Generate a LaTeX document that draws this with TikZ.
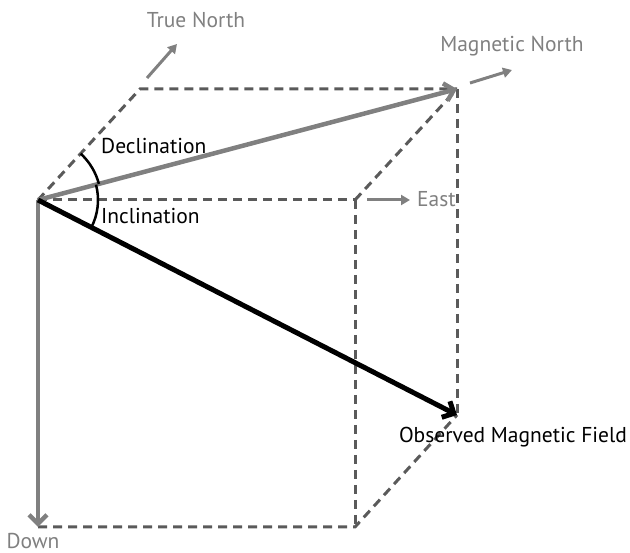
\documentclass[tikz,border=0pt]{standalone}
\usepackage{fontspec}
\setmainfont{PT Sans}
\usetikzlibrary{arrows.meta}
\definecolor{vecgray}{RGB}{128,128,128}
\definecolor{boxgray}{RGB}{90,90,90}
\def\mylabelsize{\fontsize{21.5}{24}\selectfont}

\begin{document}
\begin{tikzpicture}[x=1pt,y=-1pt]
\tikzstyle{box}=[line width=3pt,color=boxgray,dash pattern=on 9pt off 6pt]
\tikzstyle{vec}=[line width=4.5pt,color=vecgray,-{Straight Barb[length=9pt,width=18pt]}]
\tikzstyle{field}=[line width=5pt,color=black,-{Straight Barb[length=9pt,width=18pt]}]
\tikzstyle{axis}=[line width=3pt,color=vecgray,-{Triangle[length=9pt,width=10pt]}]
\tikzstyle{angle}=[line width=2.5pt,color=black]
\tikzstyle{lbl}=[inner sep=0pt,font=\mylabelsize]

\useasboundingbox (0,0) rectangle (630,553);

\coordinate (O) at (38,200);
\path (O) + (317,0) coordinate (east1);
\path (O) + (102,-111) coordinate (north1);
\path (north1) + (317,0) coordinate (mag);
\path (O) + (0,327) coordinate (down);
\path (east1) + (0,327) coordinate (eastdown);
\path (mag) + (0,326) coordinate (obs);

\path (north1) + (7,-11) coordinate (tn1);
\path (north1) + (37,-45) coordinate (tn2);
\path (mag) + (13,-6) coordinate (mn1);
\path (mag) + (55,-19) coordinate (mn2);
\path (east1) + (12,0) coordinate (e1);
\path (east1) + (55,0) coordinate (e2);

% the box
\draw [box] (O) -- (east1);
\draw [box] (O) -- (north1) -- (mag);
\draw [box] (east1) -- (mag);
\draw [box] (mag) -- (obs);
\draw [box] (east1) -- (eastdown);
\draw [box] (down) -- (eastdown) -- (obs);

% vectors
\draw [vec] (O) -- (mag);
\draw [vec] (O) -- (down);
\draw [field] (O) -- (obs);

\draw [axis] (tn1) -- (tn2);
\draw [axis] (mn1) -- (mn2);
\draw [axis] (e1) -- (e2);

\draw [angle] (O) ++(-47.4:63) arc (-47.4:-14.8:63);
\draw [angle] (O) ++(-14.8:60) arc (-14.8:27.2:60);

\node (TN) [lbl, color=vecgray, xshift=56pt, yshift=69pt] at (north1) {True North};
\node (MN) [lbl, color=vecgray, xshift=55pt, yshift=43pt] at (mag) {Magnetic North};
\node (E) [lbl, color=vecgray, anchor=west, xshift=62pt, yshift=1pt] at (east1) {East};
\node (D) [lbl, color=vecgray, xshift=-5pt, yshift=-14pt] at (down) {Down};
\node (OF) [lbl, xshift=56pt, yshift=-22pt] at (obs) {Observed Magnetic Field};
\node (Dec) [lbl, anchor=west, xshift=63pt, yshift=54pt] at (O) {Declination};
\node (Inc) [lbl, anchor=west, xshift=63pt, yshift=-16pt] at (O) {Inclination};

\end{tikzpicture}
\end{document}
